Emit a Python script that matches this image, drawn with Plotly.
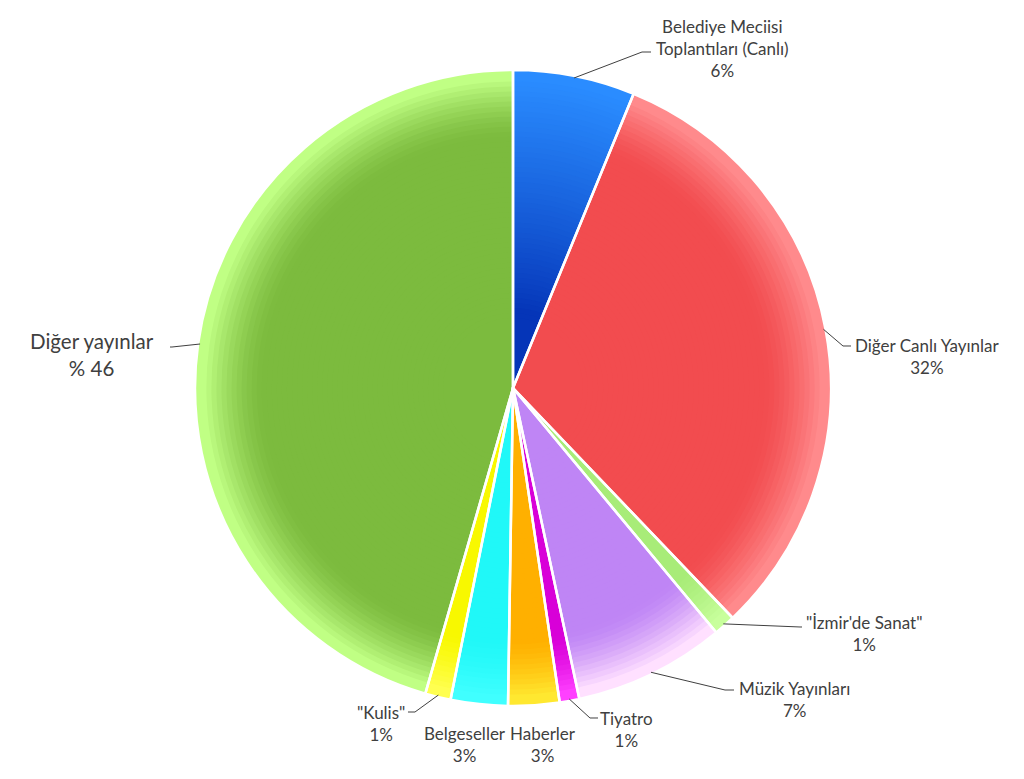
import math
import plotly.graph_objects as go

SW, SH = 1024, 779   # screen size
OFF = 8              # default page body margin
W, H = SW - OFF, SH - OFF

labels = ["Belediye Meciisi Toplantıları (Canlı)", "Diğer Canlı Yayınlar", "\"İzmir'de Sanat\"",
          "Müzik Yayınları", "Tiyatro", "Haberler", "Belgeseller", "\"Kulis\"", "Diğer yayınlar"]
values = [6.2, 31.7, 1.1, 7.7, 1.0, 2.6, 2.9, 1.3, 45.6]
label_texts = ["Belediye Meciisi<br>Toplantıları (Canlı)<br>6%", "Diğer Canlı Yayınlar<br>32%",
               "\"İzmir'de Sanat\"<br>1%", "Müzik Yayınları<br>7%", "Tiyatro<br>1%",
               "Haberler<br>3%", "Belgeseller<br>3%", "\"Kulis\"<br>1%", "Diğer yayınlar<br>% 46"]

base_colors = ["#0535b8", "#f24c4f", "#a8ec78", "#bf85f5", "#d800d8", "#ffb000", "#20f8f8", "#f8f800", "#7cbb3e"]
rim_colors = ["#2a8cff", "#ff8a8c", "#c8ff9c", "#ffe0ff", "#ff40ff", "#ffe830", "#40ffff", "#ffff50", "#c0ff84"]
grad_start = [0.25, 0.80, 0.80, 0.80, 0.80, 0.80, 0.80, 0.80, 0.80]
grad_pow = [0.9, 1.4, 1.4, 1.4, 1.4, 1.4, 1.4, 1.4, 1.4]

# layout (screen pixel) settings
cx, cy, R = 513, 388, 318
label_pos = [(722, 48), (927, 357), (864, 633), (794, 699), (626, 729), (543, 744), (465, 744), (381, 723), (92, 355)]
elbows = [[(642, 52), (651, 52)], [(843, 346), (851, 346)], [(800, 627), (802, 627)],
          [(725, 690), (734, 690)], [(590, 718), (598, 718)], None, None,
          [(415, 712), (408, 712)], [(172, 347), (170, 347)]]
font_sizes = [17, 17, 17, 17, 17, 17, 17, 17, 20.5]


def px(x):
    return (x - OFF) / W


def py(y):
    return 1 - (y - OFF) / H


def mix(c1, c2, t):
    a = [int(c1[i:i + 2], 16) for i in (1, 3, 5)]
    b = [int(c2[i:i + 2], 16) for i in (1, 3, 5)]
    return "#%02x%02x%02x" % tuple(round(a[i] + (b[i] - a[i]) * t) for i in range(3))


dom = dict(x=[px(cx - R), px(cx + R)], y=[py(cy + R), py(cy - R)])

fig = go.Figure()
common = dict(labels=labels, values=values, sort=False, direction="clockwise", rotation=0,
              textinfo="none", hoverinfo="label+percent", domain=dom, showlegend=False)

fig.add_trace(go.Pie(marker=dict(colors=base_colors, line=dict(color="white", width=0)), **common))
n = 48
for k in range(n):
    h = 0.22 + k * (0.76 / n)
    h_out = 0.22 + (k + 1) * (0.76 / n)
    cols = []
    for b, r, s, p in zip(base_colors, rim_colors, grad_start, grad_pow):
        t = max(0.0, min(1.0, (h_out - s) / (0.98 - s))) ** p
        cols.append(mix(b, r, t))
    fig.add_trace(go.Pie(hole=h, marker=dict(colors=cols, line=dict(width=0)), **common))
fig.add_trace(go.Pie(marker=dict(colors=["rgba(0,0,0,0)"] * len(values), line=dict(color="white", width=2.5)),
                     **common))

shapes = []
annotations = []
total = sum(values)
cum = 0
for i, v in enumerate(values):
    mid = (cum + v / 2) / total * 2 * math.pi
    cum += v
    ex = cx + (R - 2) * math.sin(mid)
    ey = cy - (R - 2) * math.cos(mid)
    if elbows[i]:
        pts = [(ex, ey)] + elbows[i]
        path = "M " + " L ".join(f"{px(x):.5f},{py(y):.5f}" for x, y in pts)
        shapes.append(dict(type="path", path=path, xref="paper", yref="paper",
                           line=dict(color="#404040", width=1)))
    lx, ly = label_pos[i]
    annotations.append(dict(x=px(lx), y=py(ly), xref="paper", yref="paper", text=label_texts[i],
                            showarrow=False, xanchor="center", yanchor="middle", align="center",
                            font=dict(family="Lato, Open Sans, sans-serif", size=font_sizes[i], color="#404040")))

fig.update_layout(width=W, height=H, margin=dict(l=0, r=0, t=0, b=0), paper_bgcolor="white",
                  plot_bgcolor="white", shapes=shapes, annotations=annotations)
fig.write_html("out.html")
